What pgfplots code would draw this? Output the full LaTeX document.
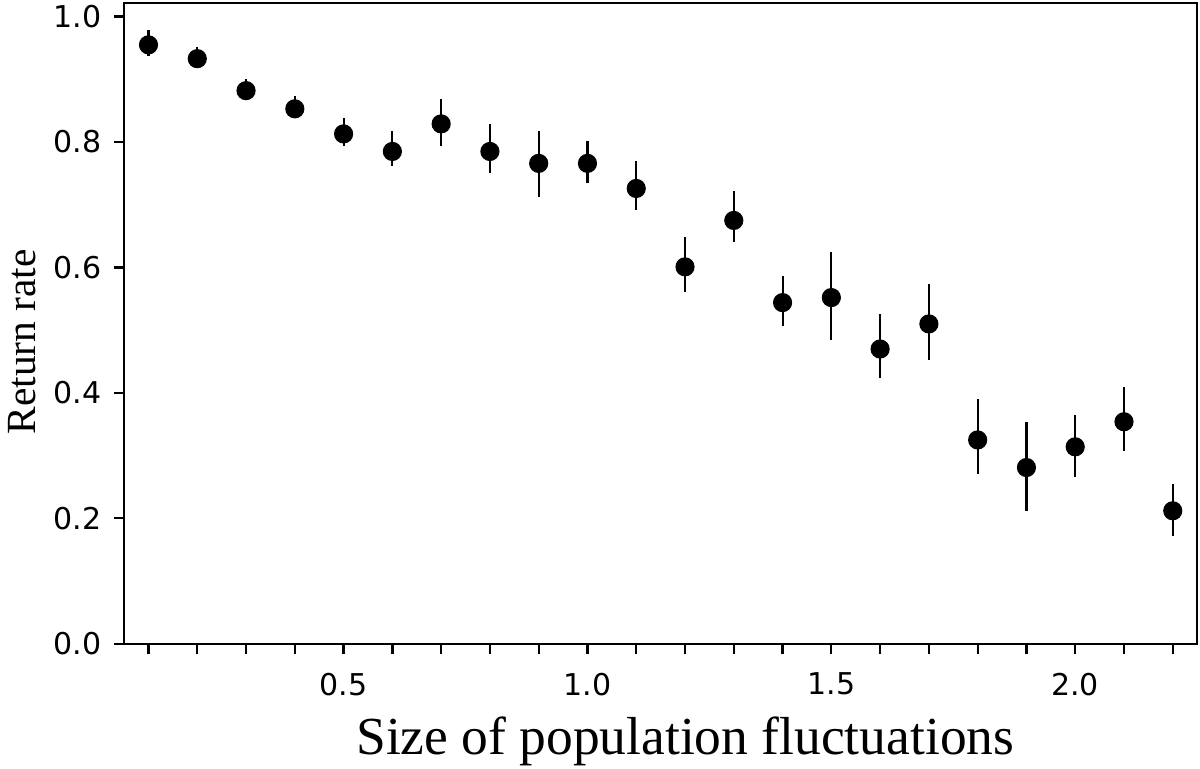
\documentclass[border=0pt]{standalone}
\usepackage{pgfplots}
\pgfplotsset{compat=1.18}
\usepackage{pgfplotstable}
\usepackage{fontspec}
\setmainfont{Liberation Serif}
\newfontfamily\ticksf{DejaVu Sans}

\pgfplotstableread{
x    y     ep    em
0.1  0.955 0.024 0.017
0.2  0.933 0.018 0.010
0.3  0.882 0.018 0.010
0.4  0.853 0.021 0.013
0.5  0.813 0.026 0.020
0.6  0.785 0.032 0.023
0.7  0.829 0.039 0.035
0.8  0.785 0.043 0.034
0.9  0.766 0.052 0.053
1.0  0.766 0.036 0.032
1.1  0.726 0.043 0.034
1.2  0.601 0.048 0.040
1.3  0.675 0.047 0.035
1.4  0.544 0.043 0.037
1.5  0.552 0.072 0.067
1.6  0.470 0.056 0.046
1.7  0.510 0.063 0.057
1.8  0.325 0.066 0.054
1.9  0.281 0.073 0.069
2.0  0.314 0.051 0.048
2.1  0.354 0.056 0.046
2.2  0.212 0.043 0.040
}\returndata

\begin{document}
\begin{tikzpicture}
\begin{axis}[
  scale only axis,
  width=375.2pt, height=224.1pt,
  xmin=0.05, xmax=2.25,
  ymin=0, ymax=1.022,
  axis line style={line width=0.8pt},
  tick style={line width=0.8pt, black},
  tick align=outside,
  major tick length=3.6pt,
  xtick pos=bottom, ytick pos=left,
  xtick={0.1,0.2,0.3,0.4,0.5,0.6,0.7,0.8,0.9,1.0,1.1,1.2,1.3,1.4,1.5,1.6,1.7,1.8,1.9,2.0,2.1,2.2},
  xticklabels={,,,,0.5,,,,,1.0,,,,,1.5,,,,,2.0,,},
  ytick={0,0.2,0.4,0.6,0.8,1.0},
  yticklabels={0.0,0.2,0.4,0.6,0.8,1.0},
  tick label style={font=\ticksf\fontsize{10.5}{12}\selectfont},
  xticklabel style={yshift=-3pt},
  yticklabel style={xshift=-0.8pt},
  xlabel={Size of population fluctuations},
  ylabel={Return rate},
  xlabel style={font=\fontsize{18.7}{21}\selectfont,
    at={(axis description cs:0.523,0)}, anchor=base, yshift=-38.8pt},
  ylabel style={font=\fontsize{14.5}{17}\selectfont,
    at={(axis description cs:-0.0954,0.471)}, anchor=center},
]
\addplot[only marks, mark=*, mark size=3.15pt, black,
  error bars/.cd, y dir=both, y explicit,
  error bar style={line width=0.75pt}, error mark=none]
  table[x=x, y=y, y error plus=ep, y error minus=em]{\returndata};
\coordinate (bl) at (rel axis cs:0,0);
\coordinate (tr) at (rel axis cs:1,1);
\end{axis}
\pgfresetboundingbox
\path ([shift={(-43.4pt,-43.7pt)}]bl) rectangle ([shift={(1pt,1pt)}]tr);
\end{tikzpicture}
\end{document}
